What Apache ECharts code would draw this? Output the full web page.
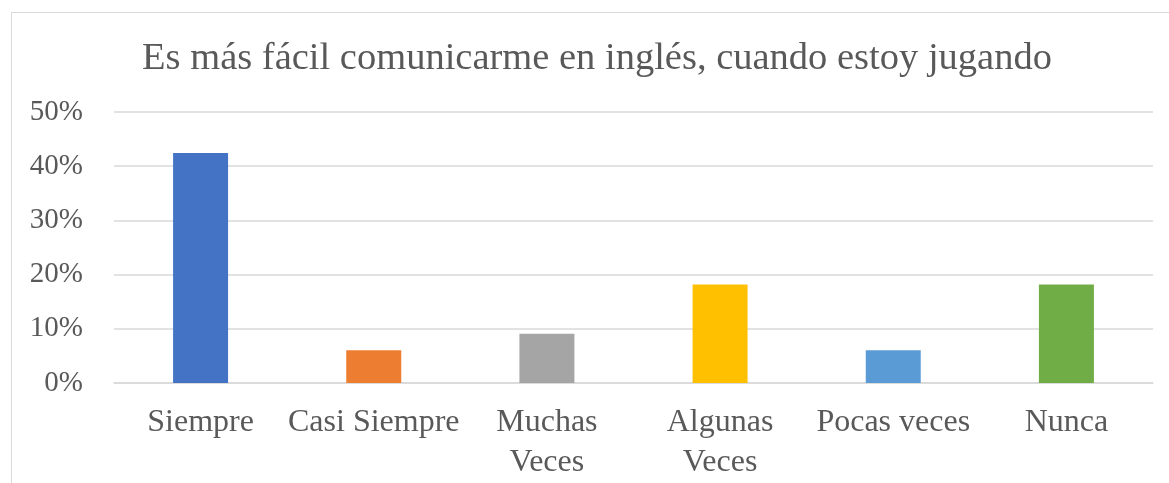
<!DOCTYPE html>
<html><head><meta charset="utf-8">
<script src="https://cdn.jsdelivr.net/npm/echarts@6/dist/echarts.min.js"></script>
<style>html,body{margin:0;padding:0;background:#fff}#c{width:1169px;height:483px}</style>
</head><body><div id="c"></div>
<script>
const titleText = 'Es más fácil comunicarme en inglés, cuando estoy jugando';
const categories = ['Siempre', 'Casi Siempre', 'Muchas\nVeces', 'Algunas\nVeces', 'Pocas veces', 'Nunca'];
const values = [42.42, 6.06, 9.09, 18.18, 6.06, 18.18];
const colors = ['#4472C4', '#ED7D31', '#A5A5A5', '#FFC000', '#5B9BD5', '#70AD47'];
const yTicks = [0, 10, 20, 30, 40, 50];

const font = '"Liberation Serif", "Times New Roman", serif';
const chart = echarts.init(document.getElementById('c'), null, {renderer: 'canvas'});
chart.setOption({
  animation: false,
  backgroundColor: '#fff',
  graphic: [{
    type: 'rect', shape: {x: 11.5, y: 12.5, width: 1170, height: 480},
    style: {fill: 'none', stroke: '#d9d9d9', lineWidth: 1}, silent: true
  }],
  title: {
    text: titleText, left: 592, top: 34, textAlign: 'center',
    textStyle: {fontFamily: font, fontSize: 38.5, fontWeight: 'normal', color: '#595959'}
  },
  grid: {left: 114, right: 16, top: 112, bottom: 100, containLabel: false},
  xAxis: {
    type: 'category', data: categories,
    axisLine: {show: true, lineStyle: {color: '#d9d9d9', width: 1.5}},
    axisTick: {show: false},
    axisLabel: {fontFamily: font, fontSize: 32, color: '#595959', margin: 20, lineHeight: 40, interval: 0}
  },
  yAxis: {
    type: 'value', min: yTicks[0], max: yTicks[yTicks.length - 1], interval: 10,
    axisLine: {show: false}, axisTick: {show: false},
    splitLine: {lineStyle: {color: '#d9d9d9', width: 1.5}},
    axisLabel: {fontFamily: font, fontSize: 29, color: '#595959', margin: 31, formatter: v => v + '%'}
  },
  series: [{
    type: 'bar', barWidth: 55,
    data: values.map((v, i) => ({value: v, itemStyle: {color: colors[i]}}))
  }]
});
</script></body></html>
